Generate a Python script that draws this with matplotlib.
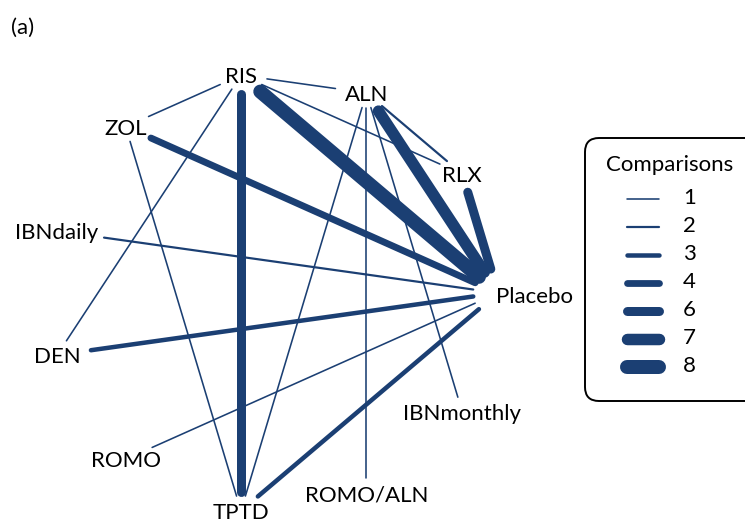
import numpy as np
import matplotlib.pyplot as plt
from matplotlib.patches import FancyBboxPatch

plt.rcParams['font.family'] = ['Lato', 'DejaVu Sans']

# treatments, counter-clockwise round the circle starting at 3 o'clock
nodes = ["Placebo", "RLX", "ALN", "RIS", "ZOL", "IBNdaily",
         "DEN", "ROMO", "TPTD", "ROMO/ALN", "IBNmonthly"]

# direct comparisons (number of studies)
edge_a = ["RIS", "RIS", "RIS", "RIS", "RIS", "RIS",
          "ALN", "ALN", "ALN", "ALN", "ALN",
          "RLX", "ZOL", "ZOL", "IBNdaily", "DEN", "ROMO", "TPTD"]
edge_b = ["ALN", "ZOL", "DEN", "TPTD", "Placebo", "RLX",
          "RLX", "Placebo", "TPTD", "ROMO/ALN", "IBNmonthly",
          "Placebo", "Placebo", "TPTD", "Placebo", "Placebo", "Placebo", "Placebo"]
comparisons = [1, 1, 1, 6, 8, 1,
               2, 7, 1, 1, 1,
               6, 4, 1, 2, 3, 1, 3]

legend_levels = [1, 2, 3, 4, 6, 7, 8]

COLOR = '#1b3f73'
W, H = 745, 521
FS = 16
# line width in pixels for each comparison count
width_px = {1: 1.6, 2: 2.2, 3: 4.5, 4: 6.8, 6: 9.0, 7: 11.5, 8: 14.0}


def main():
    fig = plt.figure(figsize=(W / 100, H / 100), dpi=100)
    ax = fig.add_axes([0, 0, 1, 1])
    ax.set_xlim(0, W)
    ax.set_ylim(H, 0)
    ax.axis('off')

    # circular layout (pixel space, slightly stretched horizontally)
    cx, cy, rx, ry = 273, 293, 225, 220
    ang = 2 * np.pi * np.arange(len(nodes)) / len(nodes)
    pos = {nm: np.array([cx + rx * np.cos(a), cy - ry * np.sin(a)])
           for nm, a in zip(nodes, ang)}

    # labels
    labels = {}
    for nm in nodes:
        x, y = pos[nm]
        if nm == "Placebo":
            t = ax.text(x - 2, y + 4, nm, ha='left', va='center', fontsize=FS)
        else:
            t = ax.text(x, y + 2, nm, ha='center', va='center', fontsize=FS)
        labels[nm] = t

    renderer = fig.canvas.get_renderer()
    half_w = {nm: labels[nm].get_window_extent(renderer).width / 2 for nm in nodes}

    def gap(nm, d, w):
        # distance from node centre to the segment end along unit direction d
        if nm == "Placebo":
            return 25.0
        a = half_w[nm] + 10
        b = 14.0
        return 1.0 / np.sqrt((d[0] / a) ** 2 + (d[1] / b) ** 2) + w / 2

    order = np.argsort(comparisons, kind='stable')
    for i in order:
        p, q = pos[edge_a[i]], pos[edge_b[i]]
        d = (q - p) / np.linalg.norm(q - p)
        w = width_px[comparisons[i]]
        s = p + d * gap(edge_a[i], d, w)
        e = q - d * gap(edge_b[i], -d, w)
        ax.plot([s[0], e[0]], [s[1], e[1]], color=COLOR, lw=w * 0.72,
                solid_capstyle='round', zorder=2)

    # legend box
    box = FancyBboxPatch((585, 138), 185, 263,
                         boxstyle='round,pad=0,rounding_size=14',
                         fc='white', ec='black', lw=1.4, zorder=3)
    ax.add_patch(box)
    ax.text(670, 165, "Comparisons", ha='center', va='center', fontsize=FS, zorder=4)
    for k, lev in enumerate(legend_levels):
        yk = 199 + 28 * k
        ax.plot([627, 659], [yk, yk], color=COLOR, lw=width_px[lev] * 0.72,
                solid_capstyle='round', zorder=4)
        ax.text(683, yk - 1, str(lev), ha='left', va='center', fontsize=FS, zorder=4)

    ax.text(11, 28, "(a)", ha='left', va='center', fontsize=FS)

    fig.savefig("out.png", dpi=100)


if __name__ == '__main__':
    main()
